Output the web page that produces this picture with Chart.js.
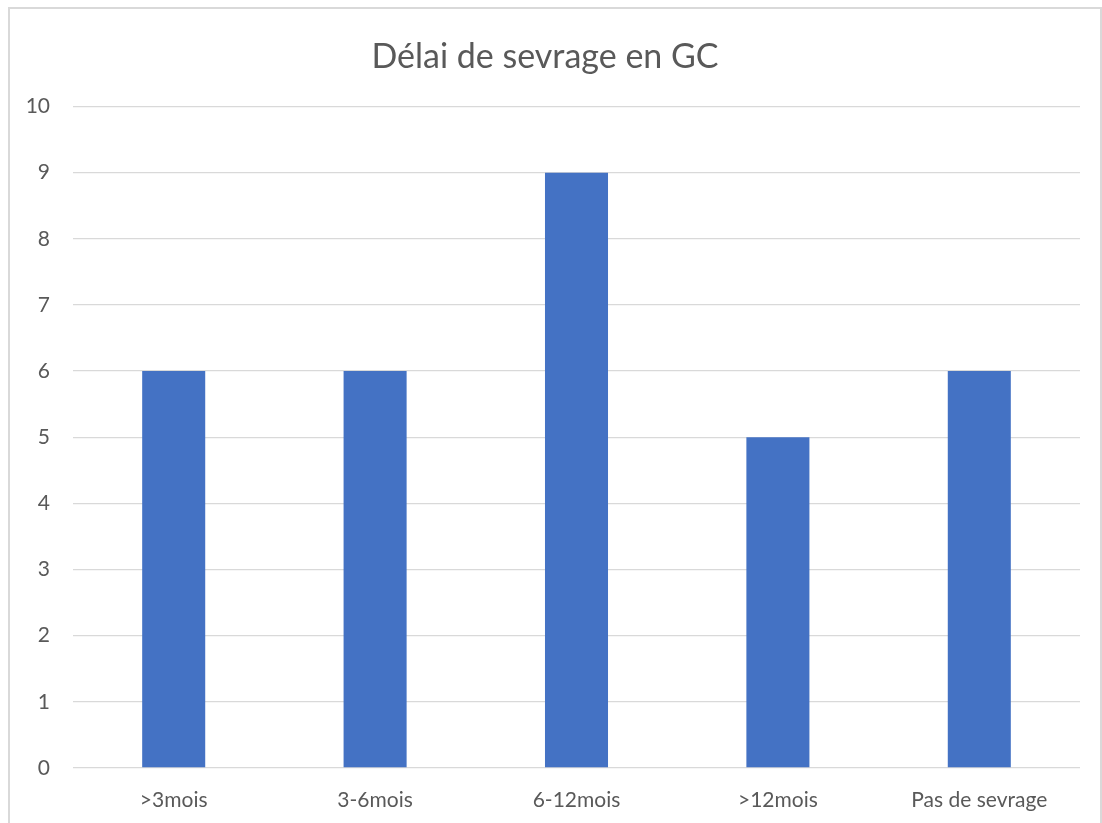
<!DOCTYPE html>
<html>
<head>
<meta charset="utf-8">
<script src="https://cdn.jsdelivr.net/npm/chart.js@4/dist/chart.umd.min.js"></script>
<style>
  body { margin: 0; background: #fff; overflow: hidden; }
  #frame { position: absolute; left: 8px; top: 7px; width: 1090px; height: 840px; border: 2px solid #d9d9d9; }
  #chart { position: absolute; left: 0; top: 0; }
</style>
</head>
<body>
<div id="frame"></div>
<canvas id="chart" width="1102" height="823"></canvas>
<script>
// chart data
const categories = [">3mois", "3-6mois", "6-12mois", ">12mois", "Pas de sevrage"];
const counts = [6, 6, 9, 5, 6];
const yTicks = [0, 1, 2, 3, 4, 5, 6, 7, 8, 9, 10];

const textColor = "#595959";
const gridColor = "#d9d9d9";

const ctx = document.getElementById("chart").getContext("2d");
new Chart(ctx, {
    type: "bar",
    data: {
        labels: categories,
        datasets: [
            {
                label: "Délai",
                data: counts,
                backgroundColor: "#4472C4",
                barPercentage: 0.313,
                categoryPercentage: 1,
            },
        ],
    },
    options: {
        responsive: false,
        animation: false,
        layout: { padding: { left: 10, right: 22, top: 0, bottom: 0 } },
        plugins: {
            legend: { display: false },
            tooltip: { enabled: false },
            title: {
                display: true,
                text: "Délai de sevrage en GC",
                color: textColor,
                font: { family: "Lato", size: 34, weight: "normal" },
                padding: { top: 37, bottom: 28.7 },
            },
        },
        scales: {
            x: {
                afterFit: (s) => { s.height = 55; },
                grid: { display: false },
                border: { display: false },
                ticks: { color: textColor, font: { family: "Lato", size: 21 }, padding: 12 },
            },
            y: {
                min: 0,
                max: 10,
                afterFit: (s) => { s.width = 63; },
                afterBuildTicks: (s) => { s.ticks = yTicks.map((v) => ({ value: v })); },
                grid: { color: gridColor, lineWidth: 1.3, drawTicks: false },
                border: { display: false },
                ticks: { color: textColor, font: { family: "Lato", size: 21 }, padding: 23 },
            },
        },
    },
});
</script>
</body>
</html>
